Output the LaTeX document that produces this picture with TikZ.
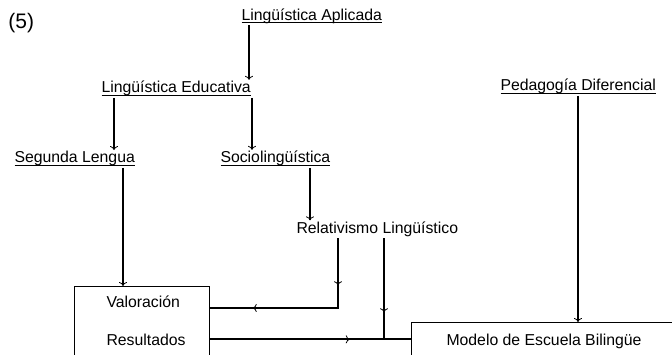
\documentclass[tikz,border=0pt]{standalone}
\usepackage{fontspec}
\setmainfont{Liberation Sans}
\usetikzlibrary{arrows.meta, decorations.markings}

\newcommand{\lblfont}{\fontsize{15.8}{18}\selectfont}
\newsavebox{\subrbox}
\newcommand{\subr}[1]{\sbox{\subrbox}{#1}\rlap{\rule[-2.7pt]{\wd\subrbox}{1pt}}\usebox{\subrbox}}

\begin{document}
\begin{tikzpicture}[
    x=1pt, y=-1pt,
    every node/.style={align=left}
]
    % Define styles
    \tikzset{
        lbl/.style={inner sep=0pt, outer sep=1.5pt, anchor=base west, font=\lblfont},
        box/.style={draw, line width=0.8pt, anchor=north west, inner sep=0pt},
        conn/.style={line width=2pt},
        flecha/.tip={To[length=4pt, width=8pt, line width=0.8pt]},
        midarrow/.style={postaction={decorate, decoration={markings,
            mark=at position #1 with {\arrow{flecha}}}}}
    }
    \clip (0,0) rectangle (672,355);

    % Title number
    \node [lbl, font=\fontsize{21}{24}\selectfont] (num) at (7,28.5) {(5)};

    % Disciplines
    \node [lbl] (apl) at (240,20.5) {\subr{Lingüística Aplicada}};
    \node [lbl] (edu) at (100,93) {\subr{Lingüística Educativa}};
    \node [lbl] (ped) at (499,91) {\subr{Pedagogía Diferencial}};
    \node [lbl] (seg) at (13,163) {\subr{Segunda Lengua}};
    \node [lbl] (soc) at (219,163) {\subr{Sociolingüística}};
    \node [lbl] (rel) at (295,233.5) {Relativismo Lingüístico};

    % Boxes
    \node [box, minimum width=135pt, minimum height=100pt] (valbox) at (74,286) {};
    \node [lbl] (val) at (105,308) {Valoración};
    \node [lbl] (res) at (105,345) {Resultados};
    \node [box, minimum width=300pt, minimum height=60pt] (modbox) at (411,322) {};
    \node [lbl] (mod) at (445,345) {Modelo de Escuela Bilingüe};

    % Arrows between disciplines
    \draw [conn, -flecha] ([xshift=9pt]apl.south west) -- ([xshift=9pt]apl.south west |- edu.north);
    \draw [conn, -flecha] ([xshift=14pt]edu.south west) -- ([xshift=14pt]edu.south west |- seg.north);
    \draw [conn, -flecha] ([xshift=152pt]edu.south west) -- ([xshift=152pt]edu.south west |- soc.north);
    \draw [conn, -flecha] ([xshift=91pt]soc.south west) -- ([xshift=91pt]soc.south west |- rel.north);

    % Arrows into the boxes
    \draw [conn, -flecha] ([xshift=110pt]seg.south west) -- ([xshift=110pt]seg.south west |- valbox.north);
    \draw [conn, midarrow=47pt, midarrow=155pt] ([xshift=43pt]rel.south west)
        -- ([xshift=43pt]rel.south west |- val.base) -- (valbox.east |- val.base);
    \draw [conn, midarrow=74pt] ([xshift=89pt]rel.south west) -- ([xshift=89pt]rel.south west |- res.east);
    \draw [conn, midarrow=140pt] (valbox.east |- res.east) -- (modbox.west |- res.east);
    \draw [conn, -flecha] ([xshift=79pt]ped.south west) -- ([xshift=79pt]ped.south west |- modbox.north);

\end{tikzpicture}
\end{document}
